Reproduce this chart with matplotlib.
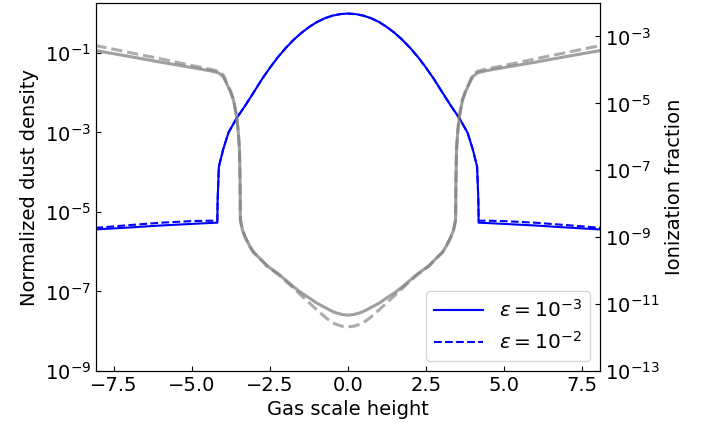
import numpy as np
import matplotlib
matplotlib.use("Agg")
import matplotlib.pyplot as plt

# ── data (log10 values) ───────────────────────────────────────────────────
x_dust = [-8.1, -7.0, -6.0, -5.0, -4.5, -4.19, -4.18, -4.16, -4.14, -4.0, -3.83,
          -3.57, -3.3, -3.03, -2.75, -2.5, -2.25, -2.0, -1.75, -1.5, -1.25, -1.0,
          -0.75, -0.5, -0.25, 0.0,
          0.25, 0.5, 0.75, 1.0, 1.25, 1.5, 1.75, 2.0, 2.25, 2.5, 2.75, 3.03, 3.3,
          3.57, 3.83, 4.0, 4.14, 4.16, 4.18, 4.19, 4.5, 5.0, 6.0, 7.0, 8.1]
dust_e3 = [-5.44, -5.39, -5.34, -5.30, -5.28, -5.27, -4.70, -4.28, -3.86, -3.42, -3.00,
           -2.64, -2.33, -2.00, -1.65, -1.37, -1.11, -0.88, -0.675, -0.50, -0.35, -0.225,
           -0.13, -0.064, -0.024, -0.01,
           -0.024, -0.064, -0.13, -0.225, -0.35, -0.50, -0.675, -0.88, -1.11, -1.37, -1.65, -2.00, -2.33,
           -2.64, -3.00, -3.42, -3.86, -4.28, -4.70, -5.27, -5.28, -5.30, -5.34, -5.39, -5.44]
dust_e2 = [-5.40, -5.33, -5.27, -5.23, -5.22, -5.22, -4.70, -4.28, -3.86, -3.42, -3.00,
           -2.64, -2.33, -2.00, -1.65, -1.37, -1.11, -0.88, -0.675, -0.50, -0.35, -0.225,
           -0.13, -0.064, -0.024, -0.01,
           -0.024, -0.064, -0.13, -0.225, -0.35, -0.50, -0.675, -0.88, -1.11, -1.37, -1.65, -2.00, -2.33,
           -2.64, -3.00, -3.42, -3.86, -4.28, -4.70, -5.22, -5.22, -5.23, -5.27, -5.33, -5.40]

x_ion = [-8.1, -7.0, -6.0, -5.0, -4.4, -4.15, -4.0, -3.89, -3.77, -3.67, -3.57, -3.52,
         -3.48, -3.46, -3.45, -3.38, -3.3, -3.15, -3.03, -2.82, -2.6, -2.2, -1.75, -1.5,
         -1.22, -1.0, -0.68, -0.45, -0.2, 0.0,
         0.2, 0.45, 0.68, 1.0, 1.22, 1.5, 1.75, 2.2, 2.6, 2.82, 3.03, 3.15, 3.3, 3.38,
         3.45, 3.46, 3.48, 3.52, 3.57, 3.67, 3.77, 3.89, 4.0, 4.15, 4.4, 5.0, 6.0, 7.0, 8.1]
ion_e3 = [-3.42, -3.60, -3.77, -3.93, -4.03, -4.09, -4.20, -4.41, -4.65, -4.91, -5.41, -5.85,
          -6.40, -7.40, -8.49, -8.80, -8.99, -9.27, -9.45, -9.64, -9.85, -10.12, -10.48, -10.66,
          -10.83, -10.97, -11.13, -11.24, -11.31, -11.33,
          -11.31, -11.24, -11.13, -10.97, -10.83, -10.66, -10.48, -10.12, -9.85, -9.64, -9.45, -9.27,
          -8.99, -8.80, -8.49, -7.40, -6.40, -5.85, -5.41, -4.91, -4.65, -4.41, -4.20, -4.09, -4.03,
          -3.93, -3.77, -3.60, -3.42]
ion_e2 = [-3.27, -3.48, -3.67, -3.87, -3.98, -4.04, -4.15, -4.38, -4.62, -4.88, -5.38, -5.80,
          -6.35, -7.40, -8.49, -8.80, -8.99, -9.27, -9.45, -9.64, -9.86, -10.14, -10.52, -10.74,
          -10.98, -11.17, -11.43, -11.58, -11.66, -11.68,
          -11.66, -11.58, -11.43, -11.17, -10.98, -10.74, -10.52, -10.14, -9.86, -9.64, -9.45, -9.27,
          -8.99, -8.80, -8.49, -7.40, -6.35, -5.80, -5.38, -4.88, -4.62, -4.38, -4.15, -4.04, -3.98,
          -3.87, -3.67, -3.48, -3.27]

eps_labels = [r"$\epsilon=10^{-3}$", r"$\epsilon=10^{-2}$"]

plt.rcParams.update({"font.family": "DejaVu Sans", "font.size": 14})

fig = plt.figure(figsize=(7.24, 4.30), dpi=100)
ax = fig.add_axes([0.1326, 0.1372, 0.6961, 0.8558])
ax2 = ax.twinx()

# dashed first, solid on top so the shared centre stays clean
ax.plot(x_dust, 10.0 ** np.array(dust_e2), color="blue", lw=1.5, ls="--", label=eps_labels[1], zorder=2)
ax.plot(x_dust, 10.0 ** np.array(dust_e3), color="blue", lw=1.5, ls="-", label=eps_labels[0], zorder=3)

ax2.plot(x_ion, 10.0 ** np.array(ion_e3), color="gray", alpha=0.75, lw=2.2, ls="-")
ax2.plot(x_ion, 10.0 ** np.array(ion_e2), color="gray", alpha=0.65, lw=2.2, ls="--")

ax.set_yscale("log")
ax2.set_yscale("log")
ax.set_xlim(-8.08, 8.08)
ax.set_ylim(1e-9, 1.8)
ax2.set_ylim(1e-13, 1e-2)

ax.set_yticks([1e-9, 1e-7, 1e-5, 1e-3, 1e-1])
ax2.set_yticks([1e-13, 1e-11, 1e-9, 1e-7, 1e-5, 1e-3])
ax.set_xticks([-7.5, -5.0, -2.5, 0.0, 2.5, 5.0, 7.5])
ax.yaxis.set_minor_locator(matplotlib.ticker.NullLocator())
ax2.yaxis.set_minor_locator(matplotlib.ticker.NullLocator())

ax.tick_params(direction="in", labelsize=14)
ax2.tick_params(direction="in", labelsize=14)

ax.set_xlabel("Gas scale height", fontsize=14)
ax.set_ylabel("Normalized dust density", fontsize=14)
ax2.set_ylabel("Ionization fraction", fontsize=14)

handles, labels = ax.get_legend_handles_labels()
ax.legend(handles[::-1], labels[::-1], loc="lower right", fontsize=14.5,
          handlelength=2.4)

fig.savefig("out.png", dpi=100)
